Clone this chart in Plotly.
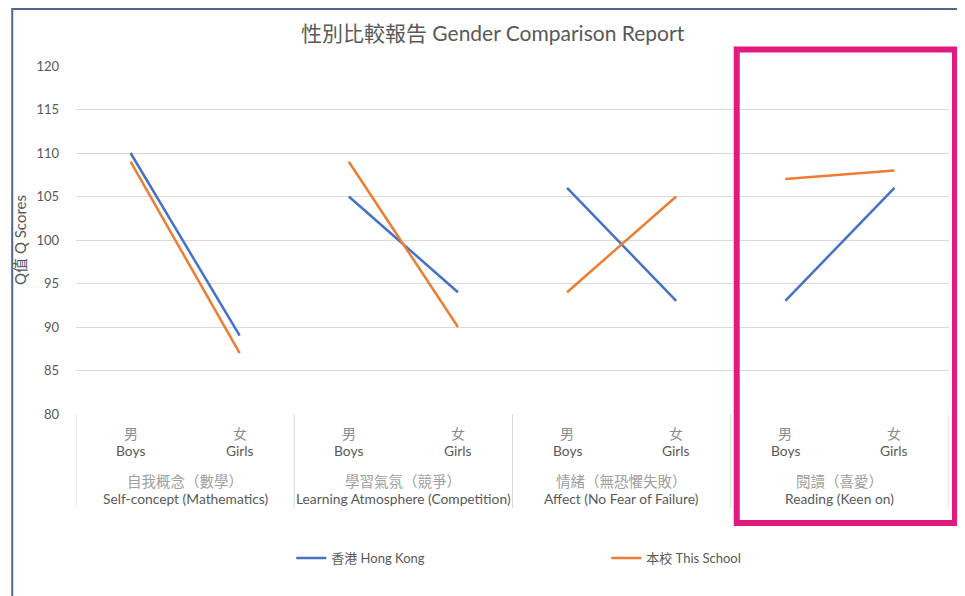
import plotly.graph_objects as go

# ---------------- data ----------------
groups_cn = ["自我概念（數學）", "學習氣氛（競爭）", "情緒（無恐懼失敗）", "閱讀（喜愛）"]
groups_en = ["Self-concept (Mathematics)", "Learning Atmosphere (Competition)",
             "Affect (No Fear of Failure)", "Reading (Keen on)"]
gender_cn = ["男", "女"]
gender_en = ["Boys", "Girls"]
hk_boys = [110, 105, 106, 93]
hk_girls = [89, 94, 93, 106]
school_boys = [109, 109, 94, 107]
school_girls = [87, 90, 105, 108]
series_names = ["香港 Hong Kong", "本校 This School"]
y_ticks = [80, 85, 90, 95, 100, 105, 110, 115, 120]

OFF = 8  # page body margin
W, H = 965 - OFF, 596 - OFF
L, R, T, B = 73 - OFF, 949 - OFF, 66 - OFF, 414 - OFF  # plot area in figure px


def px(x):  # screen px -> paper
    return (x - OFF - L) / (R - L)


def py(y):
    return (B - (y - OFF)) / (B - T)


def seg(boys, girls):
    xs, ys = [], []
    for i, (b, g) in enumerate(zip(boys, girls)):
        xs += [2 * i, 2 * i + 1, None]
        ys += [b, g, None]
    return xs, ys


FONT = "Lato, Noto Sans CJK TC, sans-serif"
CJK = "Noto Sans CJK TC, sans-serif"
GREY = "#595959"

fig = go.Figure()
for name, boys, girls, color in [
    (series_names[0], hk_boys, hk_girls, "#4472C4"),
    (series_names[1], school_boys, school_girls, "#ED7D31"),
]:
    xs, ys = seg(boys, girls)
    fig.add_trace(go.Scatter(x=xs, y=ys, mode="lines", name=name,
                             line=dict(color=color, width=2.5),
                             connectgaps=False))

annotations = []
shapes = []
# gender labels
for i in range(len(groups_cn)):
    for j in range(2):
        xi = 2 * i + j
        annotations.append(dict(x=xi, xref="x", y=py(433), yref="paper",
                                xanchor="center", yanchor="middle",
                                text=gender_cn[j], showarrow=False,
                                font=dict(family=CJK, size=14, color="#8C8C8C")))
        annotations.append(dict(x=xi, xref="x", y=py(451), yref="paper",
                                xanchor="center", yanchor="middle",
                                text=gender_en[j], showarrow=False,
                                font=dict(family=FONT, size=13.8, color=GREY)))
    annotations.append(dict(x=2 * i + 0.5, xref="x", y=py(480), yref="paper",
                            xanchor="center", yanchor="middle",
                            text=groups_cn[i], showarrow=False,
                            font=dict(family=CJK, size=14.5, color="#A0A0A0")))
    annotations.append(dict(x=2 * i + 0.5, xref="x", y=py(498), yref="paper",
                            xanchor="center", yanchor="middle",
                            text=groups_en[i], showarrow=False,
                            font=dict(family=FONT, size=13.8, color=GREY)))
# separators
for k in range(len(groups_cn) + 1):
    shapes.append(dict(type="line", xref="x", yref="paper",
                       x0=2 * k - 0.5, x1=2 * k - 0.5, y0=py(414), y1=py(508),
                       line=dict(color="#D9D9D9", width=1)))
# outer chart border
shapes.append(dict(type="rect", xref="paper", yref="paper",
                   x0=px(9), x1=px(985), y0=py(616), y1=py(9),
                   line=dict(color="#4F6791", width=2)))
# magenta highlight box
shapes.append(dict(type="rect", xref="paper", yref="paper",
                   x0=px(736), x1=px(955), y0=py(523), y1=py(49.5),
                   line=dict(color="#E2197F", width=6)))

fig.update_layout(
    width=W, height=H,
    margin=dict(l=L, r=W - R, t=T, b=H - B),
    paper_bgcolor="white", plot_bgcolor="white",
    title=dict(text="性別比較報告 Gender Comparison Report",
               x=px(491), xanchor="center", xref="paper",
               y=1 - (34 - OFF) / H, yanchor="middle",
               font=dict(family=FONT, size=21, color=GREY)),
    xaxis=dict(range=[-0.5, 7.5], showticklabels=False, showgrid=False,
               zeroline=False, showline=False, ticks=""),
    yaxis=dict(range=[80, 120], tickvals=y_ticks, showgrid=True,
               gridcolor="#D9D9D9", gridwidth=1, zeroline=False,
               showline=False, ticks="", ticklabelstandoff=16,
               tickfont=dict(family=FONT, size=13, color=GREY),
               title=dict(text="Q值 Q Scores", standoff=6,
                          font=dict(family=FONT, size=15, color=GREY))),
    legend=dict(orientation="h", x=px(289), xanchor="left",
                y=py(558), yanchor="middle", entrywidth=270,
                font=dict(family=FONT, size=13, color=GREY),
                bgcolor="rgba(0,0,0,0)"),
    annotations=annotations,
    shapes=shapes,
)

fig.write_html("out.html")
